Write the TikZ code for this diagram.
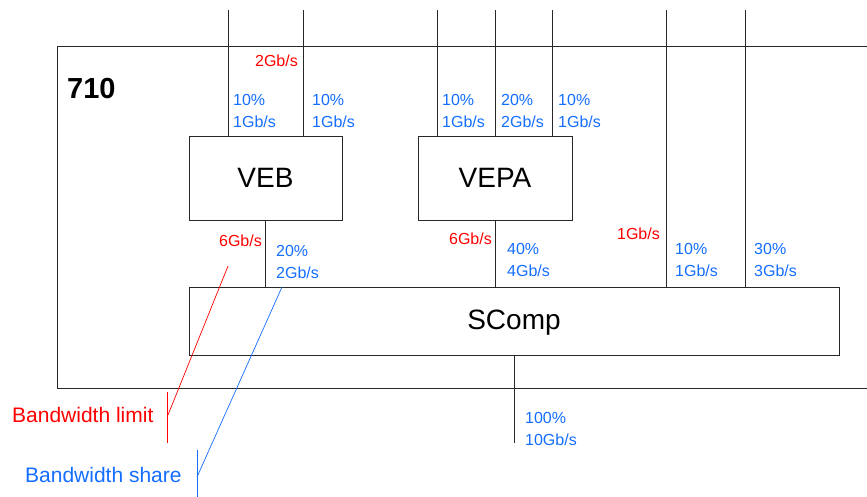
\documentclass[tikz,border=0pt]{standalone}
\usepackage{fontspec}
\setmainfont{Liberation Sans}
\definecolor{lim}{RGB}{255,0,0}
\definecolor{shr}{RGB}{20,110,255}
\definecolor{ln}{RGB}{40,40,40}
\begin{document}
\begin{tikzpicture}[x=1pt,y=-1pt,
  wire/.style={draw=ln,line width=0.8pt},
  box/.style={draw=ln,line width=0.9pt,fill=white,inner sep=0pt,font=\fontsize{28}{32}\selectfont},
  share/.style={text=shr,font=\fontsize{16}{22}\selectfont,align=left,inner sep=0pt,anchor=north west},
  limit/.style={text=lim,font=\fontsize{16}{22}\selectfont,inner sep=0pt,anchor=north east},
  legend/.style={font=\fontsize{21}{25}\selectfont,inner sep=0pt,anchor=base west}]
\useasboundingbox (0,0) rectangle (867,497);
\fill[white] (0,0) rectangle (867,497);
% outer box
\draw[ln,line width=0.9pt] (880,46) -- (57,46) -- (57,388) -- (880,388);
\node[inner sep=0pt,anchor=north west,font=\fontsize{29}{32}\selectfont\bfseries] (num) at (67,78) {710};
% boxes
\node[box,minimum width=153pt,minimum height=84pt] (veb) at (265.5,178) {VEB};
\node[box,minimum width=154pt,minimum height=84pt] (vepa) at (495,178) {VEPA};
\node[box,minimum width=650pt,minimum height=68.5pt] (scomp) at (514,321.5) {};
\node[inner sep=0pt,anchor=base,font=\fontsize{28}{32}\selectfont] (sclabel) at (514,329) {SComp};
% free ends
\coordinate (t1) at (228,10);
\coordinate (t2) at (303,10);
\coordinate (t3) at (437,10);
\coordinate (t4) at (495,10);
\coordinate (t5) at (552,10);
\coordinate (t6) at (666,10);
\coordinate (t7) at (745,10);
\coordinate (bot) at (514,443);
% connectors
\draw[wire] (t1) -- (t1 |- veb.north);
\draw[wire] (t2) -- (t2 |- veb.north);
\draw[wire] (t3) -- (t3 |- vepa.north);
\draw[wire] (t4) -- (t4 |- vepa.north);
\draw[wire] (t5) -- (t5 |- vepa.north);
\draw[wire] (t6) -- (t6 |- scomp.north);
\draw[wire] (t7) -- (t7 |- scomp.north);
\draw[wire] (veb.south) -- (veb.south |- scomp.north);
\draw[wire] (vepa.south) -- (vepa.south |- scomp.north);
\draw[wire] (scomp.south) -- (bot);
% labels
\node[limit] (l2) at (298,55) {2Gb/s};
\node[share] (s1) at (233,94) {10\%\\1Gb/s};
\node[share] (s2) at (312,94) {10\%\\1Gb/s};
\node[share] (s3) at (442,94) {10\%\\1Gb/s};
\node[share] (s4) at (501,94) {20\%\\2Gb/s};
\node[share] (s5) at (558,94) {10\%\\1Gb/s};
\node[limit] (l6a) at (262,235) {6Gb/s};
\node[share] (s6) at (276,245) {20\%\\2Gb/s};
\node[limit] (l6b) at (492,233) {6Gb/s};
\node[share] (s7) at (507,243) {40\%\\4Gb/s};
\node[limit] (l1) at (660,228) {1Gb/s};
\node[share] (s8) at (675,243) {10\%\\1Gb/s};
\node[share] (s9) at (754,243) {30\%\\3Gb/s};
\node[share] (s10) at (525,412) {100\%\\10Gb/s};
% legend
\node[legend,text=lim] (leglim) at (12,422) {Bandwidth limit};
\node[legend,text=shr] (legshr) at (25,482) {Bandwidth share};
\coordinate (rt1) at (167,392);
\coordinate (rt2) at (167,443);
\coordinate (rtm) at (168,415);
\coordinate (rs) at (228,266);
\coordinate (bt1) at (197,450);
\coordinate (bt2) at (197,497);
\coordinate (btm) at (197,477);
\coordinate (bs) at (282,287);
\draw[lim,line width=0.7pt] (rt1) -- (rt2);
\draw[lim,line width=0.7pt] (rs) -- (rtm);
\draw[shr,line width=0.7pt] (bt1) -- (bt2);
\draw[shr,line width=0.7pt] (bs) -- (btm);
\end{tikzpicture}
\end{document}
